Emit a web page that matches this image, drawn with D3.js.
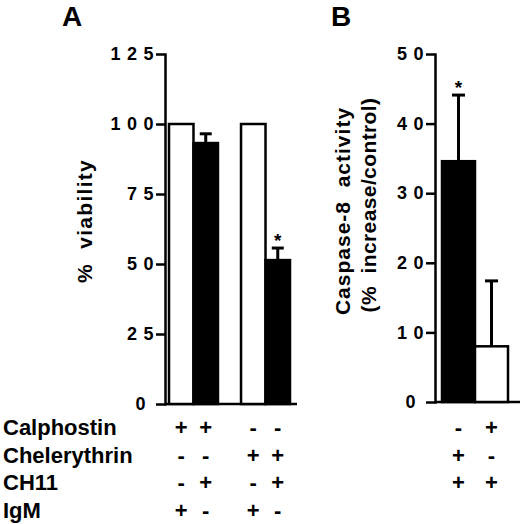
<!DOCTYPE html>
<html>
<head>
<meta charset="utf-8">
<script src="https://cdn.jsdelivr.net/npm/d3@7"></script>
<style>
  body { margin: 0; background: #fff; }
  svg text { font-family: "Liberation Sans", Arial, Helvetica, sans-serif; font-weight: bold; fill: #000; }
</style>
</head>
<body>
<svg id="vis"></svg>
<script>
// ---- data ----
// panel A: % viability
var groupsA = ["Calphostin", "Chelerythrin"];
var subA = ["IgM", "CH11"];
var barGroupA = ["Calphostin", "Calphostin", "Chelerythrin", "Chelerythrin"];
var barSubA = ["IgM", "CH11", "IgM", "CH11"];
var viability = [100, 93.2, 100, 51.4];
var viabilityErr = [0, 3.3, 0, 4.3];
var starA = [false, false, false, true];
var ticksA = [0, 25, 50, 75, 100, 125];

// panel B: caspase-8 activity
var barsB = ["Chelerythrin", "Calphostin"];
var caspase = [34.6, 8.0];
var caspaseErr = [9.5, 9.4];
var starB = [true, false];
var ticksB = [0, 10, 20, 30, 40, 50];

// treatment table under the bars
var rowLabels = ["Calphostin", "Chelerythrin", "CH11", "IgM"];
var signsA = [
	["+", "+", "-", "-"],
	["-", "-", "+", "+"],
	["-", "+", "-", "+"],
	["+", "-", "+", "-"]
];
var signsB = [
	["-", "+"],
	["+", "-"],
	["+", "+"],
	["", ""]
];

var W = 520, H = 524;
var svg = d3.select("svg#vis").attr("width", W).attr("height", H);
svg.append("rect").attr("width", W).attr("height", H).attr("fill", "white");

var nb = "\u00a0";

// shared styling for the spaced-out tick numbers
function styleAxis(g) {
	g.select(".domain").attr("stroke-width", 2.5).attr("stroke-linecap", "square");
	g.selectAll(".tick line").attr("stroke-width", 2.5);
	g.selectAll(".tick text")
		.style("font-size", "18px")
		.style("letter-spacing", "6.5px")
		.style("font-family", "'Liberation Sans', Arial, sans-serif")
		.style("font-weight", "bold")
		.attr("dx", function(d) { return d === 0 ? -8 : 0; });
}

function drawErr(g, x, y0, y1, cap) {
	g.append("line").attr("x1", x).attr("x2", x).attr("y1", y0).attr("y2", y1)
		.attr("stroke", "black").attr("stroke-width", 3);
	g.append("line").attr("x1", x - cap / 2).attr("x2", x + cap / 2).attr("y1", y1).attr("y2", y1)
		.attr("stroke", "black").attr("stroke-width", 3);
}

var fillScale = d3.scaleOrdinal().domain(["open", "solid"]).range(["white", "black"]);

////////////   Panel A   ////////////
var axisXA = 165;
var yA = d3.scaleLinear().domain([0, 125]).range([404, 54]);
var xGroupA = d3.scaleBand().domain(groupsA).range([169, 290]).paddingInner(0.32);
var xSubA = d3.scaleBand().domain(subA).range([0, xGroupA.bandwidth()]);

var gA = svg.append("g");

// x baseline
gA.append("line")
	.attr("x1", axisXA).attr("x2", xGroupA.range()[1] + 7)
	.attr("y1", yA(0)).attr("y2", yA(0))
	.attr("stroke", "black").attr("stroke-width", 2.5);

gA.append("g")
	.attr("transform", "translate(" + axisXA + ",0)")
	.call(d3.axisLeft(yA).tickValues(ticksA).tickSizeInner(9).tickSizeOuter(0).tickPadding(-4))
	.call(styleAxis);

var barsA = viability.map(function(v, i) {
	return { group: barGroupA[i], sub: barSubA[i], value: v, err: viabilityErr[i], star: starA[i] };
});

function xA(d) { return xGroupA(d.group) + xSubA(d.sub); }

gA.selectAll("rect.bar").data(barsA).enter().append("rect")
	.attr("class", "bar")
	.attr("x", xA)
	.attr("width", xSubA.bandwidth())
	.attr("y", function(d) { return yA(d.value); })
	.attr("height", function(d) { return yA(0) - yA(d.value); })
	.attr("fill", function(d) { return fillScale(d.sub === "IgM" ? "open" : "solid"); })
	.attr("stroke", "black").attr("stroke-width", 2.5);

barsA.forEach(function(d) {
	var cx = xA(d) + xSubA.bandwidth() / 2;
	if (d.err > 0) drawErr(gA, cx, yA(d.value), yA(d.value + d.err), 12);
	if (d.star) {
		gA.append("text").text("*")
			.attr("x", cx).attr("y", yA(d.value + d.err) - 1)
			.attr("text-anchor", "middle").style("font-size", "19px");
	}
});

gA.append("text").text("A").attr("x", 62).attr("y", 26).style("font-size", "28px");

gA.append("text")
	.text("%" + nb + nb + "viability")
	.attr("transform", "translate(92,221) rotate(-90)")
	.attr("text-anchor", "middle")
	.style("font-size", "21px")
	.style("letter-spacing", "1.3px");

////////////   Panel B   ////////////
var axisXB = 435;
var yB = d3.scaleLinear().domain([0, 50]).range([402, 54]);
var xB = d3.scaleBand().domain(barsB).range([442, 508]);

var gB = svg.append("g");

gB.append("line")
	.attr("x1", axisXB).attr("x2", W)
	.attr("y1", yB(0)).attr("y2", yB(0))
	.attr("stroke", "black").attr("stroke-width", 2.5);

gB.append("g")
	.attr("transform", "translate(" + axisXB + ",0)")
	.call(d3.axisLeft(yB).tickValues(ticksB).tickSizeInner(9).tickSizeOuter(0).tickPadding(-4))
	.call(styleAxis);

var dataB = caspase.map(function(v, i) {
	return { name: barsB[i], value: v, err: caspaseErr[i], star: starB[i] };
});

gB.selectAll("rect.bar").data(dataB).enter().append("rect")
	.attr("class", "bar")
	.attr("x", function(d) { return xB(d.name); })
	.attr("width", xB.bandwidth())
	.attr("y", function(d) { return yB(d.value); })
	.attr("height", function(d) { return yB(0) - yB(d.value); })
	.attr("fill", function(d) { return fillScale(d.name === "Chelerythrin" ? "solid" : "open"); })
	.attr("stroke", "black").attr("stroke-width", 2.5);

dataB.forEach(function(d) {
	var cx = xB(d.name) + xB.bandwidth() / 2;
	drawErr(gB, cx, yB(d.value), yB(d.value + d.err), 13);
	if (d.star) {
		gB.append("text").text("*")
			.attr("x", cx).attr("y", yB(d.value + d.err) - 1)
			.attr("text-anchor", "middle").style("font-size", "19px");
	}
});

gB.append("text").text("B").attr("x", 331).attr("y", 26).style("font-size", "28px");

gB.append("text")
	.text("Caspase-8" + nb + nb + "activity")
	.attr("transform", "translate(350,211) rotate(-90)")
	.attr("text-anchor", "middle")
	.style("font-size", "21px")
	.style("letter-spacing", "1px");

gB.append("text")
	.text("(%" + nb + nb + "increase/control)")
	.attr("transform", "translate(376,205) rotate(-90)")
	.attr("text-anchor", "middle")
	.style("font-size", "21px")
	.style("letter-spacing", "0.4px");

////////////   Treatment table   ////////////
var yRow = d3.scalePoint().domain(rowLabels).range([435, 518]);
var gT = svg.append("g");

rowLabels.forEach(function(label, r) {
	var y = yRow(label);
	gT.append("text").text(label).attr("x", 3).attr("y", y).style("font-size", "22px");

	barsA.forEach(function(d, i) {
		gT.append("text").text(signsA[r][i])
			.attr("x", xA(d) + xSubA.bandwidth() / 2).attr("y", y)
			.attr("text-anchor", "middle").style("font-size", "22px");
	});
	dataB.forEach(function(d, i) {
		gT.append("text").text(signsB[r][i])
			.attr("x", xB(d.name) + xB.bandwidth() / 2).attr("y", y)
			.attr("text-anchor", "middle").style("font-size", "22px");
	});
});
</script>
</body>
</html>
